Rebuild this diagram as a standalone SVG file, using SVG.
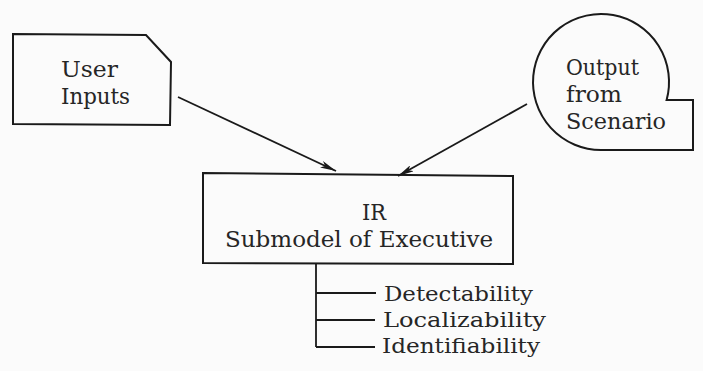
<svg xmlns="http://www.w3.org/2000/svg" width="703" height="371" viewBox="0 0 703 371">
<style>
.shape{fill:none;stroke:#1a1a1a;stroke-width:2}
.conn{fill:none;stroke:#1a1a1a;stroke-width:1.8}
.t{font-family:"DejaVu Serif","Liberation Serif",serif;fill:#262626;font-size:22px}
.sm{font-family:"DejaVu Serif","Liberation Serif",serif;fill:#262626;font-size:21px}
</style>
<defs>
<marker id="arr" viewBox="0 0 16 7" refX="16" refY="3.5" markerWidth="16" markerHeight="7" markerUnits="userSpaceOnUse" orient="auto">
<path d="M0,0 L16,3.5 L0,7 L4,3.5 Z" fill="#1a1a1a"/>
</marker>
</defs>
<rect width="703" height="371" fill="#fbfbfb"/>
<g id="user-inputs">
<path class="shape" d="M13,34 L146,35 L171,62 L170,125 L13,124 Z"/>
<text class="t" x="61" y="77" textLength="57" lengthAdjust="spacingAndGlyphs">User</text>
<text class="t" x="61" y="104" textLength="69" lengthAdjust="spacingAndGlyphs">Inputs</text>
</g>
<g id="output-scenario">
<path class="shape" d="M601,150 A68,68 0 1 1 666.6,100 L693,100 L693,150 Z"/>
<text class="t" x="566" y="75" textLength="73" lengthAdjust="spacingAndGlyphs">Output</text>
<text class="t" x="566" y="102" textLength="56" lengthAdjust="spacingAndGlyphs">from</text>
<text class="t" x="566" y="129" textLength="100" lengthAdjust="spacingAndGlyphs">Scenario</text>
</g>
<g id="ir-submodel">
<path class="shape" d="M203,173 L513,176 L513,264 L203,263 Z"/>
<text class="t" x="362" y="220" textLength="24" lengthAdjust="spacingAndGlyphs">IR</text>
<text class="t" x="225" y="247" textLength="268" lengthAdjust="spacingAndGlyphs">Submodel of Executive</text>
</g>
<g id="connectors">
<line class="conn" x1="178" y1="97" x2="336" y2="171" marker-end="url(#arr)"/>
<line class="conn" x1="527" y1="104" x2="398" y2="176" marker-end="url(#arr)"/>
<path class="conn" d="M316,264 L316,347 M316,293 L376,293 M316,320 L375,320 M316,347 L375,347"/>
</g>
<g id="detectability"><text class="sm" x="384" y="301" textLength="149" lengthAdjust="spacingAndGlyphs">Detectability</text></g>
<g id="localizability"><text class="sm" x="383" y="327" textLength="163" lengthAdjust="spacingAndGlyphs">Localizability</text></g>
<g id="identifiability"><text class="sm" x="382" y="353" textLength="158" lengthAdjust="spacingAndGlyphs">Identifiability</text></g>
</svg>
